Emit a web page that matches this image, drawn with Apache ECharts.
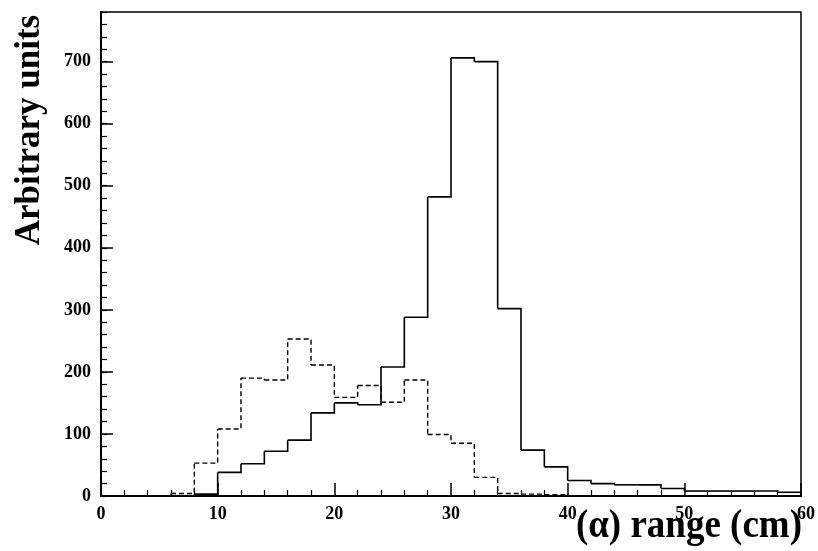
<!DOCTYPE html>
<html lang="en">
<head>
    <meta charset="UTF-8">
    <title>alpha range</title>
    <style>
        html, body { margin: 0; padding: 0; background: #fff; }
        #chart { width: 818px; height: 551px; }
    </style>
</head>
<body>
<div id="chart"></div>
<script src="https://cdn.jsdelivr.net/npm/echarts@6/dist/echarts.min.js"></script>
<script type="text/javascript">
    // left edges of the 2 cm bins
    var binLeft = [0, 2, 4, 6, 8, 10, 12, 14, 16, 18, 20, 22, 24, 26, 28,
        30, 32, 34, 36, 38, 40, 42, 44, 46, 48, 50, 52, 54, 56, 58];
    var binWidth = 2;
    // solid histogram
    var solidValues = [0, 0, 0, 0, 3, 38, 52, 72, 90, 134, 150, 147, 208, 288, 482,
        706, 700, 302, 74, 47, 25, 20, 18, 18, 12, 8, 8, 8, 8, 6];
    // dashed histogram
    var dashedValues = [0, 0, 0, 4, 53, 108, 190, 187, 253, 211, 159, 178, 151, 187, 99,
        85, 30, 4, 3, 2, 0, 0, 0, 0, 0, 0, 0, 0, 0, 0];

    var serif = '"Liberation Serif", "DejaVu Serif", serif';

    /**
     * 直方图轮廓: 每个bin画顶边和到下一个bin的竖线
     */
    function histSeries(name, values, lineStyle) {
        return {
            name: name, type: 'custom', xAxisIndex: 0, yAxisIndex: 0,
            data: binLeft.map(function (x, i) { return [x, values[i]]; }),
            renderItem: function (params, api) {
                var i = params.dataIndex;
                var x0 = api.value(0), v = api.value(1);
                var pts = [api.coord([x0, v]), api.coord([x0 + binWidth, v])];
                if (i + 1 < values.length) {
                    pts.push(api.coord([x0 + binWidth, values[i + 1]]));
                }
                return {
                    type: 'polyline',
                    shape: { points: pts },
                    style: lineStyle
                };
            }
        };
    }

    var chart = echarts.init(document.getElementById('chart'));
    chart.setOption({
        animation: false,
        backgroundColor: '#fff',
        grid: {
            left: 101, right: 13, top: 12, bottom: 55,
            show: true, borderColor: '#000', borderWidth: 1.5, backgroundColor: 'transparent'
        },
        xAxis: [{
            type: 'value', min: 0, max: 60, interval: 10,
            axisLine: { show: true, onZero: false, lineStyle: { color: '#000', width: 2 } },
            axisTick: { show: true, inside: true, length: 13, lineStyle: { color: '#000', width: 1.5 } },
            minorTick: { show: true, splitNumber: 5, length: 6, lineStyle: { color: '#000', width: 1.2 } },
            splitLine: { show: false },
            axisLabel: {
                margin: 9, color: '#000', fontFamily: serif, fontWeight: 'bold', fontSize: 18,
                formatter: function (v) { return v === 60 ? '{hi|60}' : String(v); },
                rich: { hi: { fontFamily: serif, fontWeight: 'bold', fontSize: 18, color: '#000', padding: [0, 0, 0, 10] } }
            }
        }],
        yAxis: [{
            type: 'value', min: 0, max: 780, interval: 100,
            axisLine: { show: true, onZero: false, lineStyle: { color: '#000', width: 2 } },
            axisTick: { show: true, inside: true, length: 12, lineStyle: { color: '#000', width: 1.5 } },
            splitLine: { show: false },
            axisLabel: {
                margin: 10, color: '#000', fontFamily: serif, fontWeight: 'bold', fontSize: 18,
                showMaxLabel: false
            }
        }, {
            type: 'value', min: 0, max: 780, interval: 20, position: 'left',
            axisLine: { show: false },
            axisTick: { show: true, inside: true, length: 6, lineStyle: { color: '#000', width: 1.2 } },
            splitLine: { show: false },
            axisLabel: { show: false }
        }],
        series: [
            histSeries('solid', solidValues, { stroke: '#000', lineWidth: 1.6, fill: null }),
            histSeries('dashed', dashedValues, { stroke: '#000', lineWidth: 1.4, fill: null, lineDash: [5, 3] })
        ],
        graphic: [{
            type: 'text', x: 30, y: 130, rotation: Math.PI / 2,
            style: {
                text: 'Arbitrary units', fill: '#000', font: 'bold 35px ' + serif,
                align: 'center', verticalAlign: 'middle'
            }
        }, {
            type: 'text', x: 802, y: 526, scaleY: 1.1,
            style: {
                text: '(\u03b1) range (cm)', fill: '#000', font: 'bold 37px ' + serif,
                align: 'right', verticalAlign: 'middle'
            }
        }]
    });
</script>
</body>
</html>
